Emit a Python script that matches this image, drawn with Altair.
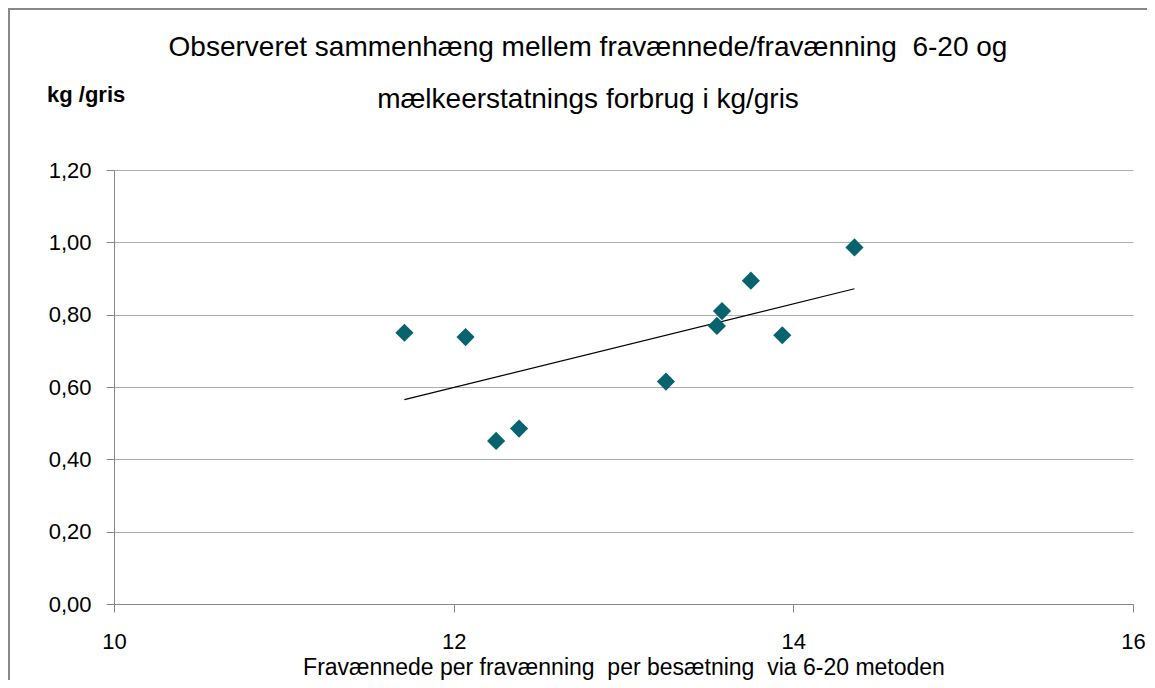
import altair as alt
import pandas as pd

# Data
fravaennede = [11.71, 12.07, 12.25, 12.385, 13.25, 13.55, 13.58, 13.75, 13.935, 14.36]
forbrug_kg = [0.750, 0.738, 0.451, 0.485, 0.615, 0.769, 0.810, 0.894, 0.743, 0.986]

x_ticks = [10, 12, 14, 16]
y_ticks = [0.0, 0.2, 0.4, 0.6, 0.8, 1.0, 1.2]

title_line1 = "Observeret sammenhæng mellem fravænnede/fravænning\u00a0 6-20 og"
title_line2 = "mælkeerstatnings forbrug i kg/gris"
x_title = "Fravænnede per fravænning\u00a0 per besætning\u00a0 via 6-20 metoden"
y_title = "kg /gris"

df = pd.DataFrame({"x": fravaennede, "y": forbrug_kg})

FONT = "Liberation Sans"
GRID = "#ADADAD"
AXIS = "#868686"
TEAL = "#07646F"

x_enc = alt.X("x:Q", scale=alt.Scale(domain=[10, 16], nice=False, zero=False),
              axis=alt.Axis(values=x_ticks, grid=False, title=x_title, format="d",
                            labelFlush=False, labelOverlap=False,
                            labelFontSize=22, labelFont=FONT, labelColor="#000000",
                            labelPadding=19, tickSize=8, tickColor=AXIS,
                            domainColor=AXIS, titleFont=FONT, titleFontSize=23,
                            titleFontWeight="normal", titleColor="#000000",
                            titleBaseline="alphabetic", titleY=70))
y_enc = alt.Y("y:Q", scale=alt.Scale(domain=[0, 1.2], nice=False),
              axis=alt.Axis(values=y_ticks, grid=True, gridColor=GRID, title=None,
                            labelExpr="replace(format(datum.value, '.2f'), '.', ',')",
                            labelFontSize=22, labelFont=FONT, labelColor="#000000",
                            labelPadding=15, tickSize=8, tickColor=AXIS,
                            domainColor=AXIS))

points = alt.Chart(df).mark_point(shape="diamond", filled=True, size=330,
                                  color=TEAL, opacity=1).encode(x=x_enc, y=y_enc)

trend = alt.Chart(df).transform_regression("x", "y").mark_line(
    color="#000000", strokeWidth=1.2).encode(x="x:Q", y="y:Q")

ylabel = alt.Chart(alt.Data(values=[{"t": y_title}])).mark_text(
    font=FONT, fontSize=22, fontWeight="bold", align="left", baseline="middle",
    color="#000000").encode(text="t:N", x=alt.value(-67), y=alt.value(-75))

title1 = alt.Chart(alt.Data(values=[{"t": title_line1}])).mark_text(
    font=FONT, fontSize=28, align="center", baseline="middle",
    color="#000000").encode(text="t:N", x=alt.value(474), y=alt.value(-122))

title2 = alt.Chart(alt.Data(values=[{"t": title_line2}])).mark_text(
    font=FONT, fontSize=28, align="center", baseline="middle",
    color="#000000").encode(text="t:N", x=alt.value(474), y=alt.value(-70))

border = alt.Chart(alt.Data(values=[{}])).mark_rect(
    fill=None, stroke="#888888", strokeWidth=2, clip=False).encode(
    x=alt.value(-105), x2=alt.value(1100), y=alt.value(-161), y2=alt.value(600))

chart = alt.layer(border, trend, points, ylabel, title1, title2).properties(
    width=1019, height=434,
    padding={"left": 106, "top": 162, "right": 14, "bottom": 76},
    autosize=alt.AutoSizeParams(type="none"),
).configure_view(stroke=None)

chart.save("out.html", embed_options={"renderer": "svg", "actions": False})
